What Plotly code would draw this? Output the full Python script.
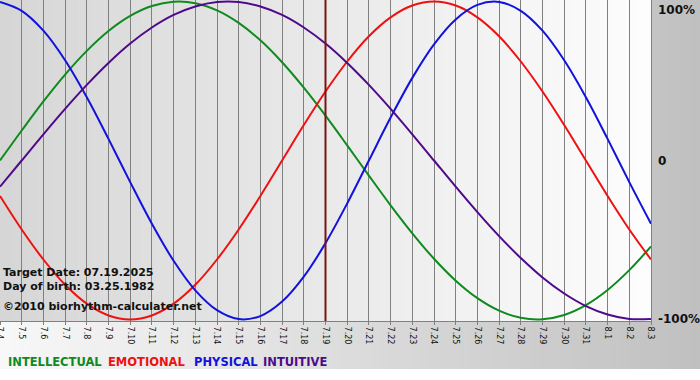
import plotly.graph_objects as go

# ---- data ----
dates = ["7.4", "7.5", "7.6", "7.7", "7.8", "7.9", "7.10", "7.11", "7.12", "7.13",
         "7.14", "7.15", "7.16", "7.17", "7.18", "7.19", "7.20", "7.21", "7.22", "7.23",
         "7.24", "7.25", "7.26", "7.27", "7.28", "7.29", "7.30", "7.31", "8.1", "8.2", "8.3"]

intellectual = [0.0, 0.189, 0.372, 0.541, 0.690, 0.815, 0.910, 0.972, 0.999, 0.990,
                0.945, 0.866, 0.756, 0.618, 0.458, 0.282, 0.095, -0.095, -0.282, -0.458,
                -0.618, -0.756, -0.866, -0.945, -0.990, -0.999, -0.972, -0.910, -0.815, -0.690, -0.541]

emotional = [-0.223, -0.434, -0.623, -0.782, -0.901, -0.975, -1.0, -0.975, -0.901, -0.782,
             -0.623, -0.434, -0.223, 0.0, 0.223, 0.434, 0.623, 0.782, 0.901, 0.975,
             1.0, 0.975, 0.901, 0.782, 0.623, 0.434, 0.223, 0.0, -0.223, -0.434, -0.623]

physical = [0.998, 0.942, 0.817, 0.631, 0.398, 0.136, -0.136, -0.398, -0.631, -0.817,
            -0.942, -0.998, -0.979, -0.888, -0.731, -0.520, -0.270, 0.0, 0.270, 0.520,
            0.731, 0.888, 0.979, 0.998, 0.942, 0.817, 0.631, 0.398, 0.136, -0.136, -0.398]

intuitive = [-0.165, 0.0, 0.165, 0.325, 0.476, 0.614, 0.736, 0.837, 0.916, 0.969,
             0.997, 0.997, 0.969, 0.916, 0.837, 0.736, 0.614, 0.476, 0.325, 0.165,
             0.0, -0.165, -0.325, -0.476, -0.614, -0.736, -0.837, -0.916, -0.969, -0.997, -0.997]

target_date = "7.19"
pct_labels = ["100%", "0", "-100%"]
pct_values = [1, 0, -1]
info_lines = ["Target Date: 07.19.2025", "Day of birth: 03.25.1982", "©2010 biorhythm-calculater.net"]
legend_names = ["INTELLECTUAL", "EMOTIONAL", "PHYSICAL", "INTUITIVE"]

# ---- layout geometry (pixels) ----
W, H = 700, 380
PL, PR, PT, PB = 0, 651, 0, 321
PW, PH = PR - PL, PB - PT


def px(x):
    return (x - PL) / PW


def py(y):
    return (PB - y) / PH


colors = {"INTELLECTUAL": "#0f8a1e", "EMOTIONAL": "#ee1111", "PHYSICAL": "#1212dd", "INTUITIVE": "#4e0a8a"}

fig = go.Figure()
for name, vals in [("INTELLECTUAL", intellectual), ("EMOTIONAL", emotional),
                   ("PHYSICAL", physical), ("INTUITIVE", intuitive)]:
    fig.add_trace(go.Scatter(x=dates, y=vals, mode="lines", name=name,
                             line=dict(color=colors[name], width=2, shape="spline"),
                             showlegend=False, hoverinfo="skip"))

shapes = []
# outer background gradient (light left -> gray right)
n = 70
for i in range(n):
    x0 = W * i / n
    x1 = W * (i + 1) / n + 0.5
    t = (i + 0.5) / n
    c = int(round(248 - (248 - 192) * t))
    shapes.append(dict(type="rect", xref="paper", yref="paper", layer="below",
                       x0=px(x0), x1=px(x1), y0=py(369), y1=py(0),
                       fillcolor=f"rgb({c},{c},{c})", line=dict(width=0)))
# plot area gradient (gray left -> white right)
n = 50
for i in range(n):
    x0 = PL + PW * i / n
    x1 = PL + PW * (i + 1) / n + 0.5
    t = (i + 0.5) / n
    c = int(round(214 + (253 - 214) * t))
    shapes.append(dict(type="rect", xref="paper", yref="paper", layer="below",
                       x0=px(x0), x1=px(min(x1, PR)), y0=0, y1=1,
                       fillcolor=f"rgb({c},{c},{c})", line=dict(width=0)))
# target date line
ti = dates.index(target_date)
shapes.append(dict(type="line", xref="x", yref="paper", x0=ti, x1=ti,
                   y0=0, y1=1, line=dict(color="#7a1414", width=2), layer="above"))

annotations = []
for lab, v in zip(pct_labels, pct_values):
    if v == 1:
        yy, ya = py(1), "top"
    else:
        yy, ya = (v + 1.01) / 2.02, "middle"
    annotations.append(dict(text=lab, xref="paper", yref="paper", x=px(656), y=yy,
                            xanchor="left", yanchor=ya, showarrow=False,
                            font=dict(family="DejaVu Sans", size=12, color="#111111", weight="bold")))

for txt, yc in zip(info_lines, [272, 286, 306.5]):
    annotations.append(dict(text=txt, xref="paper", yref="paper", x=px(1), y=py(yc),
                            xanchor="left", yanchor="middle", showarrow=False,
                            font=dict(family="DejaVu Sans", size=11, color="#111111", weight="bold")))

for name, xs in zip(legend_names, [6, 106, 191.5, 261]):
    annotations.append(dict(text=name, xref="paper", yref="paper", x=px(xs), y=py(362),
                            xanchor="left", yanchor="middle", showarrow=False,
                            font=dict(family="DejaVu Sans", size=11.5, color=colors[name], weight="bold")))

fig.update_layout(
    width=W, height=H,
    margin=dict(l=PL, r=W - PR, t=PT, b=H - PB, pad=0, autoexpand=False),
    paper_bgcolor="white",
    plot_bgcolor="rgba(0,0,0,0)",
    shapes=shapes,
    annotations=annotations,
    xaxis=dict(type="category", range=[0, len(dates) - 1], tickmode="array",
               tickvals=dates, ticktext=dates, tickangle=90, automargin=False,
               tickfont=dict(family="DejaVu Sans", size=8, color="#111111"),
               showgrid=True, gridcolor="#808080", gridwidth=1,
               ticks="outside", ticklen=3, tickcolor="#808080",
               showline=True, linecolor="#808080", linewidth=1, mirror=True,
               zeroline=False, fixedrange=True),
    yaxis=dict(range=[-1.01, 1.01], showticklabels=False, showgrid=False, zeroline=False,
               showline=True, linecolor="#808080", linewidth=1, mirror=True,
               ticks="", fixedrange=True, automargin=False),
    showlegend=False,
)

fig.write_html("out.html",
               config={"displayModeBar": False},
               post_script="document.body.style.margin='0px';document.body.style.padding='0px';")
